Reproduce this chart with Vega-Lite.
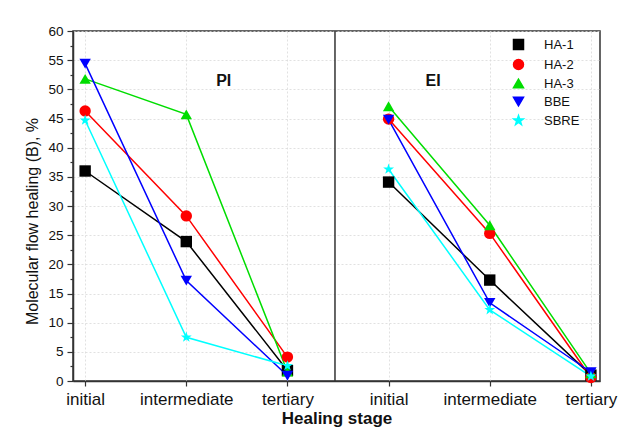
{
  "$schema": "https://vega.github.io/schema/vega-lite/v6.json",
  "width": 527,
  "height": 350,
  "autosize": "none",
  "padding": {"left": 73, "top": 31, "right": 27, "bottom": 56},
  "background": "white",
  "config": {
    "font": "Liberation Sans",
    "view": {"stroke": "#333", "strokeWidth": 1.5},
    "axis": {
      "domainColor": "#333",
      "domainWidth": 1.5,
      "tickColor": "#333",
      "tickWidth": 1.2,
      "labelColor": "#111",
      "titleColor": "#111",
      "labelFont": "Liberation Sans",
      "titleFont": "Liberation Sans",
      "gridColor": "#d9d9d9",
      "gridDash": [2, 2],
      "gridWidth": 0.8,
      "labelOverlap": false
    }
  },
  "resolve": {"axis": {"y": "independent"}},
  "datasets": {
    "main": [
      {"series": "HA-1", "panel": "PI", "x": 1, "y": 36.0},
      {"series": "HA-1", "panel": "PI", "x": 2, "y": 23.9},
      {"series": "HA-1", "panel": "PI", "x": 3, "y": 1.8},
      {"series": "HA-2", "panel": "PI", "x": 1, "y": 46.3},
      {"series": "HA-2", "panel": "PI", "x": 2, "y": 28.3},
      {"series": "HA-2", "panel": "PI", "x": 3, "y": 4.1},
      {"series": "HA-3", "panel": "PI", "x": 1, "y": 51.8},
      {"series": "HA-3", "panel": "PI", "x": 2, "y": 45.7},
      {"series": "HA-3", "panel": "PI", "x": 3, "y": 1.6},
      {"series": "BBE", "panel": "PI", "x": 1, "y": 54.4},
      {"series": "BBE", "panel": "PI", "x": 2, "y": 17.2},
      {"series": "BBE", "panel": "PI", "x": 3, "y": 0.9},
      {"series": "SBRE", "panel": "PI", "x": 1, "y": 44.7},
      {"series": "SBRE", "panel": "PI", "x": 2, "y": 7.5},
      {"series": "SBRE", "panel": "PI", "x": 3, "y": 2.6},
      {"series": "HA-1", "panel": "EI", "x": 4, "y": 34.1},
      {"series": "HA-1", "panel": "EI", "x": 5, "y": 17.3},
      {"series": "HA-1", "panel": "EI", "x": 6, "y": 1.0},
      {"series": "HA-2", "panel": "EI", "x": 4, "y": 44.9},
      {"series": "HA-2", "panel": "EI", "x": 5, "y": 25.3},
      {"series": "HA-2", "panel": "EI", "x": 6, "y": 0.6},
      {"series": "HA-3", "panel": "EI", "x": 4, "y": 47.1},
      {"series": "HA-3", "panel": "EI", "x": 5, "y": 26.7},
      {"series": "HA-3", "panel": "EI", "x": 6, "y": 1.3},
      {"series": "BBE", "panel": "EI", "x": 4, "y": 44.8},
      {"series": "BBE", "panel": "EI", "x": 5, "y": 13.4},
      {"series": "BBE", "panel": "EI", "x": 6, "y": 1.5},
      {"series": "SBRE", "panel": "EI", "x": 4, "y": 36.3},
      {"series": "SBRE", "panel": "EI", "x": 5, "y": 12.2},
      {"series": "SBRE", "panel": "EI", "x": 6, "y": 0.8}
    ],
    "divider": [{"x": 3.47}],
    "labels": [
      {"x": 2.37, "y": 51.5, "label": "PI"},
      {"x": 4.44, "y": 51.5, "label": "EI"}
    ]
  },
  "layer": [
    {
      "data": {"name": "divider"},
      "mark": {"type": "rule", "color": "#333", "strokeWidth": 1.5},
      "encoding": {
        "x": {
          "field": "x", "type": "quantitative",
          "scale": {"domain": [0.88, 6.09], "nice": false, "zero": false},
          "axis": {
            "title": "Healing stage",
            "titleFontSize": 17,
            "titleFontWeight": "bold",
            "titlePadding": 3,
            "values": [1, 2, 3, 4, 5, 6],
            "labelExpr": "['','initial','intermediate','tertiary','initial','intermediate','tertiary'][datum.value]",
            "labelFontSize": 17,
            "labelPadding": 5,
            "tickSize": 5,
            "grid": true,
            "labelFlush": false
          }
        }
      }
    },
    {
      "data": {"name": "main"},
      "mark": {"type": "line", "strokeWidth": 1.5},
      "encoding": {
        "x": {"field": "x", "type": "quantitative", "scale": {"domain": [0.88, 6.09], "nice": false, "zero": false}},
        "y": {
          "field": "y", "type": "quantitative",
          "scale": {"domain": [0, 60], "nice": false, "zero": true},
          "axis": {
            "orient": "left",
            "title": "Molecular flow healing (B), %",
            "titleFontSize": 16,
            "titleFontWeight": "normal",
            "titleX": -41,
            "titleY": 190,
            "titleAngle": -90,
            "titleAlign": "center",
            "titleBaseline": "middle",
            "values": [0, 5, 10, 15, 20, 25, 30, 35, 40, 45, 50, 55, 60],
            "labelFontSize": 13.5,
            "labelPadding": 4,
            "labelFlush": false,
            "labelOverlap": false,
            "tickSize": 6,
            "grid": true
          }
        },
        "color": {
          "field": "series", "type": "nominal",
          "scale": {"domain": ["HA-1", "HA-2", "HA-3", "BBE", "SBRE"], "range": ["#000000", "#ff0000", "#00dd00", "#0000ff", "#00ffff"]},
          "legend": {
            "title": null,
            "orient": "none",
            "legendX": 439,
            "legendY": 7,
            "padding": 0,
            "labelFontSize": 13,
            "labelColor": "#111",
            "labelOffset": 19,
            "rowPadding": 3,
            "symbolSize": 100,
            "encode": {
              "symbols": {
                "update": {
                  "shape": {"signal": "datum.value === 'HA-1' ? 'M-3.8,0L3.8,0M-0.9,-0.9L0.9,-0.9L0.9,0.9L-0.9,0.9Z' : datum.value === 'HA-2' ? 'M-3.8,0L3.8,0M-1.1,0A1.1,1.1,0,1,0,1.1,0A1.1,1.1,0,1,0,-1.1,0Z' : datum.value === 'HA-3' ? 'M-3.8,0L3.8,0M0,-1.1L1.1,0.8L-1.1,0.8Z' : datum.value === 'BBE' ? 'M-3.8,0L3.8,0M0,1.1L1.1,-0.8L-1.1,-0.8Z' : 'M-3.8,0L3.8,0M0,-1.2L0.28,-0.39L1.14,-0.37L0.46,0.15L0.71,0.97L0,0.48L-0.71,0.97L-0.46,0.15L-1.14,-0.37L-0.28,-0.39Z'"},
                  "stroke": {"signal": "scale('color', datum.value)"},
                  "fill": {"signal": "scale('color', datum.value)"},
                  "strokeWidth": {"value": 1.5},
                  "opacity": {"value": 1}
                }
              }
            }
          }
        },
        "detail": {"field": "panel"}
      }
    },
    {
      "data": {"name": "main"},
      "mark": {"type": "point", "filled": true, "opacity": 1, "size": 130},
      "encoding": {
        "x": {"field": "x", "type": "quantitative", "scale": {"domain": [0.88, 6.09], "nice": false, "zero": false}},
        "y": {"field": "y", "type": "quantitative", "scale": {"domain": [0, 60], "nice": false, "zero": true}, "axis": null},
        "color": {
          "field": "series", "type": "nominal",
          "scale": {"domain": ["HA-1", "HA-2", "HA-3", "BBE", "SBRE"], "range": ["#000000", "#ff0000", "#00dd00", "#0000ff", "#00ffff"]},
          "legend": {
            "title": null,
            "orient": "none",
            "legendX": 439,
            "legendY": 7,
            "padding": 0,
            "labelFontSize": 13,
            "labelColor": "#111",
            "labelOffset": 19,
            "rowPadding": 3,
            "symbolSize": 100,
            "encode": {
              "symbols": {
                "update": {
                  "shape": {"signal": "datum.value === 'HA-1' ? 'M-3.8,0L3.8,0M-0.9,-0.9L0.9,-0.9L0.9,0.9L-0.9,0.9Z' : datum.value === 'HA-2' ? 'M-3.8,0L3.8,0M-1.1,0A1.1,1.1,0,1,0,1.1,0A1.1,1.1,0,1,0,-1.1,0Z' : datum.value === 'HA-3' ? 'M-3.8,0L3.8,0M0,-1.1L1.1,0.8L-1.1,0.8Z' : datum.value === 'BBE' ? 'M-3.8,0L3.8,0M0,1.1L1.1,-0.8L-1.1,-0.8Z' : 'M-3.8,0L3.8,0M0,-1.2L0.28,-0.39L1.14,-0.37L0.46,0.15L0.71,0.97L0,0.48L-0.71,0.97L-0.46,0.15L-1.14,-0.37L-0.28,-0.39Z'"},
                  "stroke": {"signal": "scale('color', datum.value)"},
                  "fill": {"signal": "scale('color', datum.value)"},
                  "strokeWidth": {"value": 1.5},
                  "opacity": {"value": 1}
                }
              }
            }
          }
        },
        "shape": {
          "field": "series", "type": "nominal",
          "scale": {"domain": ["HA-1", "HA-2", "HA-3", "BBE", "SBRE"], "range": ["square", "circle", "triangle-up", "triangle-down", "M0,-1L0.235,-0.324L0.951,-0.309L0.38,0.124L0.588,0.809L0,0.4L-0.588,0.809L-0.38,0.124L-0.951,-0.309L-0.235,-0.324Z"]}
        }
      }
    },
    {
      "data": {"name": "labels"},
      "mark": {"type": "text", "fontSize": 16, "fontWeight": "bold", "color": "#111", "baseline": "middle", "align": "center"},
      "encoding": {
        "x": {"field": "x", "type": "quantitative", "scale": {"domain": [0.88, 6.09], "nice": false, "zero": false}},
        "y": {
          "field": "y", "type": "quantitative",
          "scale": {"domain": [0, 60], "nice": false, "zero": true},
          "axis": {
            "orient": "left",
            "title": null,
            "values": [2.5, 7.5, 12.5, 17.5, 22.5, 27.5, 32.5, 37.5, 42.5, 47.5, 52.5, 57.5],
            "labels": false,
            "grid": false,
            "domain": false,
            "tickSize": 3
          }
        },
        "text": {"field": "label"}
      }
    }
  ]
}
